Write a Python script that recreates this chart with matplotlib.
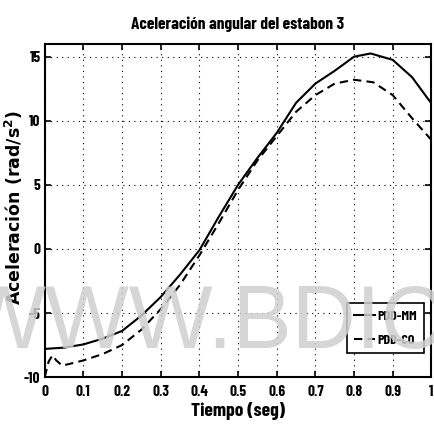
import numpy as np
import matplotlib
matplotlib.use('Agg')
import matplotlib.pyplot as plt

t_mm = [0.0, 0.05, 0.1, 0.15, 0.2, 0.25, 0.3, 0.35, 0.4, 0.45, 0.5, 0.55, 0.6,
        0.65, 0.7, 0.75, 0.8, 0.843, 0.9, 0.95, 1.0]
a_mm = [-7.8, -7.7, -7.45, -7.0, -6.4, -5.2, -3.75, -2.0, -0.1, 2.5, 5.0, 7.1, 9.05,
        11.4, 12.9, 13.9, 15.0, 15.25, 14.75, 13.4, 11.35]

t_co = [0.0, 0.01, 0.02, 0.03, 0.045, 0.06, 0.1, 0.15, 0.2, 0.25, 0.3, 0.35, 0.4,
        0.45, 0.5, 0.55, 0.6, 0.65, 0.7, 0.75, 0.8, 0.85, 0.9, 0.95, 1.0]
a_co = [-10.0, -8.8, -8.3, -8.7, -9.1, -9.0, -8.7, -8.2, -7.5, -6.3, -4.7, -2.8, -0.5,
        2.0, 4.6, 6.9, 8.8, 10.7, 12.0, 12.9, 13.2, 13.0, 12.0, 10.2, 8.5]

xticks = [0, 0.1, 0.2, 0.3, 0.4, 0.5, 0.6, 0.7, 0.8, 0.9, 1]
xtlabels = ['0', '0.1', '0.2', '0.3', '0.4', '0.5', '0.6', '0.7', '0.8', '0.9', '1']
yticks = [-10, -5, 0, 5, 10, 15]

narrow = ['Barlow Condensed', 'DejaVu Sans']
wide = ['Liberation Sans', 'DejaVu Sans']

fig = plt.figure(figsize=(4.34, 4.30), dpi=100)
ax = fig.add_axes([0.103, 0.123, 0.891, 0.775])

ax.plot(t_mm, a_mm, color='black', lw=1.5, label='PDD-MM')
ax.plot(t_co, a_co, color='black', lw=1.5, ls=(0, (4, 2.5)), label='PDD-CO')

ax.set_xlim(0, 1)
ax.set_ylim(-10, 16)
ax.set_xticks(xticks)
ax.set_xticklabels(xtlabels, family=narrow, fontweight='bold', fontsize=11)
ax.set_yticks(yticks)
ax.set_yticklabels([str(v) for v in yticks], family=narrow, fontweight='bold', fontsize=11)
ax.tick_params(direction='in', top=True, right=True, length=4, width=1.2)
ax.tick_params(axis='x', pad=6)
ax.tick_params(axis='y', pad=3)
ax.grid(True, color='black', ls=(0, (1, 4)), lw=0.8)
for s in ax.spines.values():
    s.set_linewidth(1.5)

ax.set_title('Aceleración angular del estabon 3', family=narrow, fontweight='bold',
             fontsize=12.5, pad=11)
ax.set_xlabel('Tiempo (seg)', family=narrow, fontweight='bold', fontsize=14, labelpad=2)
ax.set_ylabel('Aceleración (rad/s$^\\mathbf{2}$)', fontweight='bold', fontsize=12.5,
              family=['DejaVu Sans'])
ax.yaxis.set_label_coords(-0.05, 0.51)

leg = ax.legend(loc='lower right', bbox_to_anchor=(0.992, 0.06), fancybox=False,
                edgecolor='black', framealpha=1, handlelength=1.5, handletextpad=0.2,
                borderpad=0.5, labelspacing=0.9, borderaxespad=0.3,
                prop={'family': narrow, 'weight': 'bold', 'size': 10})
leg.get_frame().set_linewidth(1.2)

# watermark over the plot
fig.text(0.47, 0.245, 'WWW.BDIC', ha='center', va='center', fontsize=64,
         color='#cfcfcf', alpha=0.85, family=wide, zorder=10)

fig.savefig('out.png', dpi=100)
